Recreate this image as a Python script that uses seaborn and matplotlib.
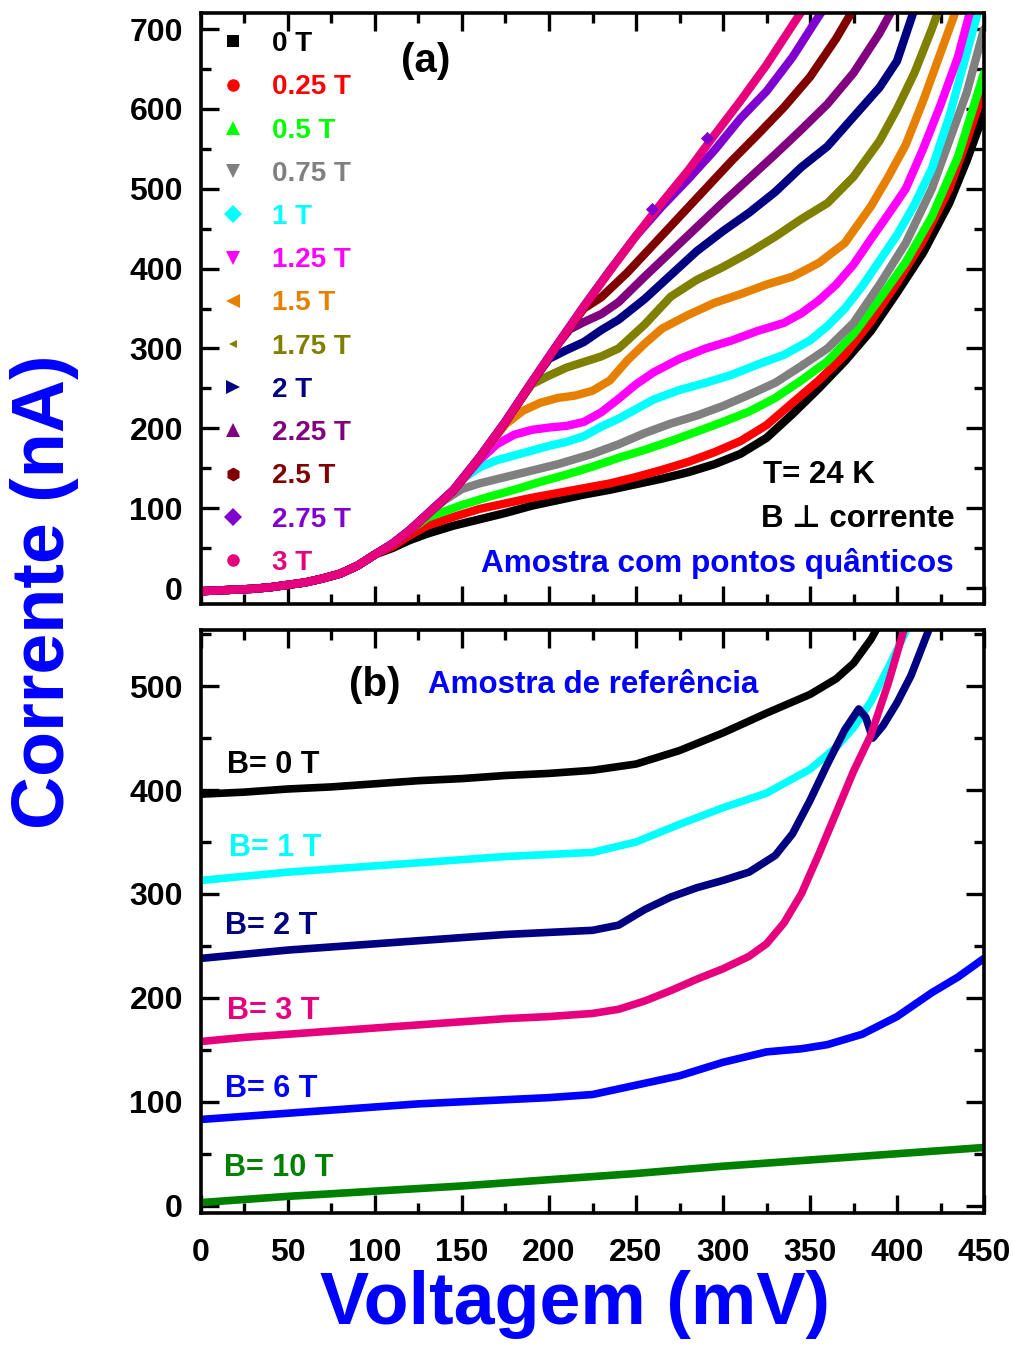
import matplotlib
matplotlib.use("Agg")
import matplotlib.pyplot as plt
import numpy as np
import pandas as pd
import seaborn as sns
from matplotlib.lines import Line2D
from matplotlib.ticker import MultipleLocator

# ---------------------------------------------------------------
# (a) quantum-dot sample, T = 24 K, B perpendicular to current
# ---------------------------------------------------------------
# low-bias part shared by every field
v_low = [0, 10, 20, 30, 40, 50, 60, 70, 80, 90, 100]
i_low = [-4, -3, -2, -1, 1, 4, 7, 12, 18, 28, 42]

v_0T = [110, 120, 130, 145, 160, 175, 190, 205, 220, 235, 250, 265, 280, 295, 310, 325, 340, 355, 370, 385, 400, 415, 430, 440, 450]
i_0T = [50, 60, 68, 78, 86, 94, 103, 110, 117, 123, 130, 137, 145, 155, 168, 188, 218, 250, 284, 322, 370, 420, 482, 535, 595]

v_025T = [110, 120, 130, 145, 160, 175, 190, 205, 220, 235, 250, 265, 280, 295, 310, 325, 340, 355, 370, 385, 400, 415, 430, 440, 450]
i_025T = [52, 66, 78, 89, 99, 106, 113, 119, 125, 131, 139, 148, 158, 170, 184, 204, 232, 260, 292, 334, 382, 435, 500, 560, 625]

v_05T = [110, 120, 130, 140, 150, 165, 180, 195, 210, 225, 240, 255, 270, 285, 300, 315, 330, 345, 360, 375, 390, 405, 420, 435, 450]
i_05T = [55, 72, 88, 96, 104, 114, 123, 133, 142, 152, 163, 173, 184, 196, 208, 221, 238, 260, 284, 318, 362, 408, 465, 540, 645]

v_075T = [110, 120, 130, 140, 150, 160, 175, 190, 205, 225, 240, 255, 270, 285, 300, 315, 330, 345, 360, 375, 390, 405, 420, 430, 440, 450]
i_075T = [55, 72, 92, 110, 124, 131, 139, 147, 155, 168, 180, 194, 206, 216, 228, 242, 257, 278, 300, 332, 380, 432, 500, 560, 620, 700]

v_1T = [110, 120, 130, 145, 150, 160, 170, 180, 190, 200, 210, 220, 230, 240, 250, 260, 275, 290, 305, 320, 335, 350, 360, 370, 380, 390, 400, 410, 420, 430, 440, 447]
i_1T = [55, 72, 92, 122, 136, 151, 160, 166, 172, 178, 183, 190, 202, 212, 224, 236, 248, 257, 267, 280, 292, 310, 328, 350, 378, 410, 442, 480, 525, 590, 670, 725]

v_125T = [110, 120, 130, 145, 160, 170, 180, 190, 200, 210, 220, 230, 240, 250, 260, 275, 290, 305, 320, 335, 345, 355, 365, 375, 385, 395, 405, 415, 425, 435, 442]
i_125T = [55, 72, 92, 122, 160, 180, 192, 198, 201, 203, 208, 220, 237, 255, 270, 287, 300, 310, 322, 332, 344, 360, 380, 405, 437, 468, 500, 550, 605, 665, 722]

v_15T = [110, 120, 130, 145, 160, 175, 185, 195, 205, 215, 225, 235, 245, 255, 265, 280, 295, 310, 325, 340, 355, 370, 385, 395, 405, 415, 425, 435]
i_15T = [55, 72, 92, 122, 163, 205, 222, 232, 238, 241, 247, 260, 285, 306, 325, 342, 357, 368, 380, 390, 407, 432, 478, 515, 555, 610, 670, 730]

v_175T = [110, 120, 130, 145, 160, 175, 190, 200, 210, 220, 230, 240, 255, 270, 285, 300, 315, 330, 345, 360, 375, 390, 400, 410, 420, 425]
i_175T = [55, 72, 92, 122, 163, 208, 255, 266, 276, 283, 290, 300, 330, 365, 386, 402, 420, 440, 462, 482, 515, 560, 600, 645, 700, 730]

v_2T = [110, 120, 130, 145, 160, 175, 190, 200, 210, 220, 230, 240, 255, 270, 285, 300, 315, 330, 345, 360, 375, 390, 400, 410]
i_2T = [55, 72, 92, 122, 163, 208, 257, 287, 298, 308, 323, 336, 362, 392, 422, 447, 470, 496, 527, 553, 590, 627, 660, 725]

v_225T = [110, 120, 130, 145, 160, 175, 190, 205, 212, 220, 230, 240, 255, 270, 285, 300, 315, 330, 345, 360, 375, 390, 400]
i_225T = [55, 72, 92, 122, 163, 208, 257, 305, 324, 333, 343, 358, 390, 421, 452, 483, 513, 543, 574, 606, 645, 695, 735]

v_25T = [110, 120, 130, 145, 160, 175, 190, 205, 220, 230, 245, 260, 275, 290, 305, 320, 335, 350, 365, 375]
i_25T = [55, 72, 92, 122, 163, 208, 257, 305, 350, 364, 395, 430, 465, 500, 535, 568, 602, 640, 688, 725]

v_275T = [110, 120, 130, 145, 160, 175, 190, 205, 220, 235, 250, 265, 280, 295, 310, 325, 340, 355, 360]
i_275T = [56, 73, 93, 123, 164, 209, 258, 306, 353, 398, 441, 478, 512, 548, 588, 622, 665, 716, 732]

v_3T = [110, 120, 130, 145, 160, 175, 190, 205, 220, 235, 250, 265, 280, 295, 310, 325, 340, 350]
i_3T = [55, 72, 92, 122, 163, 208, 257, 305, 352, 397, 441, 483, 523, 567, 610, 655, 705, 738]

# isolated 2.75 T points lying off the curve
v_275T_off = [259, 291]
i_275T_off = [475, 564]

fields_a = ["0 T", "0.25 T", "0.5 T", "0.75 T", "1 T", "1.25 T", "1.5 T",
            "1.75 T", "2 T", "2.25 T", "2.5 T", "2.75 T", "3 T"]
colors_a = ["#000000", "#FF0000", "#00FF00", "#808080", "#00FFFF", "#FF00FF",
            "#E68000", "#808000", "#000080", "#800080", "#800000", "#8000D0",
            "#E6007E"]
markers_a = ["s", "o", "^", "v", "D", "v", "<", "<", ">", "^", "h", "D", "o"]
marker_sizes = [8, 9, 10, 10, 9, 10, 10, 6, 10, 10, 10, 9, 9]
curves_a = [(v_0T, i_0T), (v_025T, i_025T), (v_05T, i_05T), (v_075T, i_075T),
            (v_1T, i_1T), (v_125T, i_125T), (v_15T, i_15T), (v_175T, i_175T),
            (v_2T, i_2T), (v_225T, i_225T), (v_25T, i_25T), (v_275T, i_275T),
            (v_3T, i_3T)]

# ---------------------------------------------------------------
# (b) reference sample
# ---------------------------------------------------------------
v_b0 = [0, 25, 50, 75, 100, 125, 150, 175, 200, 225, 250, 275, 300, 325, 350, 365, 375, 385, 390]
i_b0 = [396, 398, 401, 403, 406, 409, 411, 414, 416, 419, 425, 438, 455, 474, 492, 507, 522, 545, 560]

v_b1 = [0, 25, 50, 75, 100, 125, 150, 175, 200, 225, 250, 275, 300, 325, 350, 365, 375, 385, 395, 405]
i_b1 = [313, 317, 321, 324, 327, 330, 333, 336, 338, 340, 350, 367, 383, 397, 420, 441, 460, 485, 518, 552]

v_b2 = [0, 25, 50, 75, 100, 125, 150, 175, 200, 225, 240, 255, 270, 285, 300, 315, 330, 340, 350, 360, 370, 378, 382, 386, 392, 400, 408, 418]
i_b2 = [238, 242, 246, 249, 252, 255, 258, 261, 263, 265, 270, 285, 297, 306, 313, 321, 337, 358, 390, 425, 458, 478, 470, 450, 462, 484, 510, 553]

v_b3 = [0, 25, 50, 75, 100, 125, 150, 175, 200, 225, 240, 255, 270, 285, 300, 315, 325, 335, 345, 355, 365, 375, 385, 395, 405]
i_b3 = [158, 162, 165, 168, 171, 174, 177, 180, 182, 185, 189, 197, 207, 218, 228, 240, 252, 272, 300, 338, 378, 418, 453, 503, 560]

v_b6 = [0, 25, 50, 75, 100, 125, 150, 175, 200, 225, 250, 275, 300, 325, 345, 360, 380, 400, 420, 435, 450]
i_b6 = [83, 86, 89, 92, 95, 98, 100, 102, 104, 107, 116, 125, 138, 148, 151, 155, 165, 182, 205, 220, 238]

v_b10 = [0, 50, 100, 150, 200, 250, 300, 350, 400, 450]
i_b10 = [3, 9, 14, 19, 25, 31, 38, 44, 50, 56]

fields_b = ["B= 0 T", "B= 1 T", "B= 2 T", "B= 3 T", "B= 6 T", "B= 10 T"]
colors_b = ["#000000", "#00FFFF", "#000080", "#E6007E", "#0000FF", "#008000"]
curves_b = [(v_b0, i_b0), (v_b1, i_b1), (v_b2, i_b2), (v_b3, i_b3),
            (v_b6, i_b6), (v_b10, i_b10)]
label_pos_b = [(15, 424), (16, 344), (14, 269), (15, 187), (14, 112), (13, 36)]

# ---------------------------------------------------------------
sns.set_theme(style="ticks")
plt.rcParams["font.family"] = ["Liberation Sans", "DejaVu Sans"]
plt.rcParams["font.weight"] = "bold"
plt.rcParams["axes.linewidth"] = 2.6
plt.rcParams["text.color"] = "black"
plt.rcParams["xtick.color"] = "black"
plt.rcParams["ytick.color"] = "black"
plt.rcParams["axes.edgecolor"] = "black"

rows = []
for name, (vv, ii) in zip(fields_a, curves_a):
    for v, i in zip(v_low + vv, i_low + ii):
        rows.append((name, v, i))
df_a = pd.DataFrame(rows, columns=["campo", "V", "I"])

rows = []
for name, (vv, ii) in zip(fields_b, curves_b):
    for v, i in zip(vv, ii):
        rows.append((name, v, i))
df_b = pd.DataFrame(rows, columns=["campo", "V", "I"])

fig = plt.figure(figsize=(10.13, 13.47), dpi=100)
ax_a = fig.add_axes([0.1984, 0.5516, 0.7730, 0.4387])
ax_b = fig.add_axes([0.1984, 0.0995, 0.7730, 0.4328])

sns.lineplot(data=df_a, x="V", y="I", hue="campo", hue_order=fields_a,
             palette=dict(zip(fields_a, colors_a)), sort=False, estimator=None,
             linewidth=6, legend=False, ax=ax_a)
ax_a.scatter(v_275T_off, i_275T_off, marker="D", s=45, color=colors_a[11],
             zorder=5, linewidths=0)

sns.lineplot(data=df_b, x="V", y="I", hue="campo", hue_order=fields_b,
             palette=dict(zip(fields_b, colors_b)), sort=False, estimator=None,
             linewidth=5.5, legend=False, ax=ax_b)

for ax in (ax_a, ax_b):
    ax.set_xlim(0, 450)
    ax.xaxis.set_major_locator(MultipleLocator(50))
    ax.xaxis.set_minor_locator(MultipleLocator(25))
    ax.tick_params(which="both", direction="in", top=True, right=True,
                   width=2.4, color="black", labelcolor="black")
    ax.tick_params(which="major", length=13, labelsize=23, pad=13)
    ax.tick_params(which="minor", length=7)
    ax.tick_params(axis="x", which="major", pad=18)
    ax.set_xlabel("")
    ax.set_ylabel("")
    for s in ax.spines.values():
        s.set_color("black")
    for lab in ax.get_xticklabels() + ax.get_yticklabels():
        lab.set_fontweight("bold")

ax_a.set_ylim(-20, 720)
ax_a.yaxis.set_major_locator(MultipleLocator(100))
ax_a.yaxis.set_minor_locator(MultipleLocator(50))
ax_a.tick_params(labelbottom=False)

ax_b.set_ylim(-7, 554)
ax_b.yaxis.set_major_locator(MultipleLocator(100))
ax_b.yaxis.set_minor_locator(MultipleLocator(50))

# legend of panel (a)
handles = [Line2D([], [], linestyle="none", marker=m, color=c, markersize=ms,
                  markeredgewidth=0)
           for m, c, ms in zip(markers_a, colors_a, marker_sizes)]
leg = ax_a.legend(handles, fields_a, loc="upper left", frameon=False,
                  fontsize=20, handlelength=1.0, handletextpad=0.9,
                  labelspacing=0.62, borderaxespad=0.35, borderpad=0.3)
for t, c in zip(leg.get_texts(), colors_a):
    t.set_color(c)
    t.set_fontweight("bold")

ax_a.text(129, 660, "(a)", fontsize=29, fontweight="bold", color="black",
          ha="center", va="center")
ax_a.text(323, 142, "T= 24 K", fontsize=22.5, fontweight="bold",
          color="black", va="center")
ax_a.text(322, 86, "B \u22a5 corrente", fontsize=22.5, fontweight="bold",
          color="black", va="center")
ax_a.text(161, 31, "Amostra com pontos qu\u00e2nticos", fontsize=22.7,
          fontweight="bold", color="#0000FF", va="center")

ax_b.text(100, 501, "(b)", fontsize=29, fontweight="bold", color="black",
          ha="center", va="center")
ax_b.text(130.5, 501, "Amostra de refer\u00eancia", fontsize=22.5,
          fontweight="bold", color="#0000FF", va="center")
for name, c, (x, y) in zip(fields_b, colors_b, label_pos_b):
    ax_b.text(x, y, name, fontsize=22, fontweight="bold", color=c, va="center")

fig.text(0.0444, 0.5605, "Corrente (nA)", rotation=90, ha="center", va="center",
         fontsize=53, fontweight="bold", color="#0000FF")
fig.text(0.5676, 0.0312, "Voltagem (mV)", ha="center", va="center",
         fontsize=53, fontweight="bold", color="#0000FF")

fig.savefig("out.png", dpi=100, facecolor="white")
